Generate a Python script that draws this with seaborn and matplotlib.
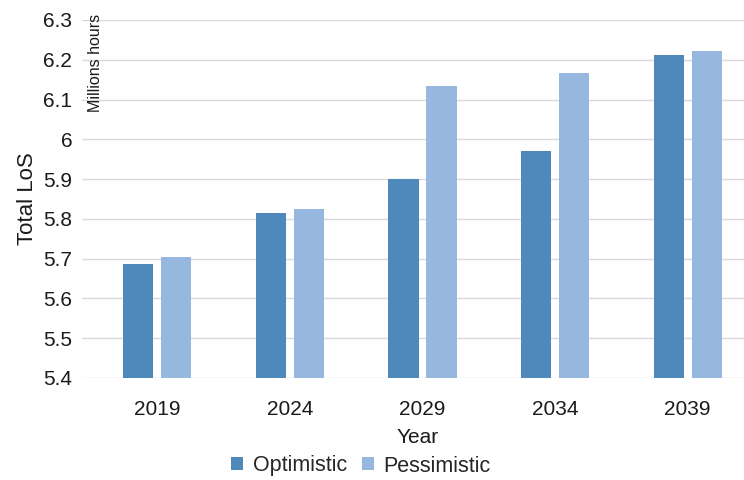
import matplotlib
matplotlib.use("Agg")
import matplotlib.pyplot as plt
import seaborn as sns
import pandas as pd
from matplotlib.patches import Patch

years = ["2019", "2024", "2029", "2034", "2039"]
optimistic = [5.687, 5.815, 5.900, 5.970, 6.213]
pessimistic = [5.705, 5.825, 6.133, 6.168, 6.223]
scenarios = ["Optimistic", "Pessimistic"]
yticks = [5.4, 5.5, 5.6, 5.7, 5.8, 5.9, 6.0, 6.1, 6.2, 6.3]
ytick_labels = ["5.4", "5.5", "5.6", "5.7", "5.8", "5.9", "6", "6.1", "6.2", "6.3"]
colors = ["#4F88BB", "#97B8DE"]

df = pd.DataFrame({
    "Year": years * 2,
    "Scenario": [scenarios[0]] * len(years) + [scenarios[1]] * len(years),
    "Value": optimistic + pessimistic,
})

sns.set_theme(style="white")
plt.rcParams["font.family"] = ["Liberation Sans", "DejaVu Sans"]

fig = plt.figure(figsize=(7.44, 4.8), dpi=100)
W, H = 744, 480
left, right, top, bottom = 82, 754, 20, 378
ax = fig.add_axes([left / W, 1 - bottom / H, (right - left) / W, (bottom - top) / H])

sns.barplot(data=df, x="Year", y="Value", hue="Scenario", palette=colors,
            width=0.573, gap=0.21, ax=ax, legend=False, linewidth=0, saturation=1)

ppu = 132.6
ax.set_xlim(-0.5 - ((right - left) / ppu - 5), 4.5)
ax.set_ylim(5.4, 6.3)
ax.set_yticks(yticks)
ax.set_yticklabels(ytick_labels)
ax.yaxis.grid(True, color="#D9D9D9", linewidth=1)
ax.set_axisbelow(True)
for s in ax.spines.values():
    s.set_visible(False)
ax.tick_params(axis="both", length=0, labelsize=15, colors="#1a1a1a")
ax.tick_params(axis="y", pad=7)
ax.tick_params(axis="x", pad=16)
ax.set_xlabel("Year", fontsize=15, color="#1a1a1a", labelpad=6)
ax.set_ylabel("Total LoS", fontsize=16, color="#1a1a1a", labelpad=4)

fig.text(95 / W, 1 - 14 / H, "Millions hours", rotation=90, fontsize=11.5,
         ha="center", va="top", color="#1a1a1a")

handles = [Patch(facecolor=c, edgecolor="none", label=l) for c, l in zip(colors, scenarios)]
fig.legend(handles=handles, loc="center", bbox_to_anchor=(361 / W, 1 - 466 / H),
           ncol=2, frameon=False, fontsize=15.5, handlelength=0.55, handleheight=0.55,
           handletextpad=0.45, columnspacing=0.7)

fig.savefig("out.png", dpi=100)
